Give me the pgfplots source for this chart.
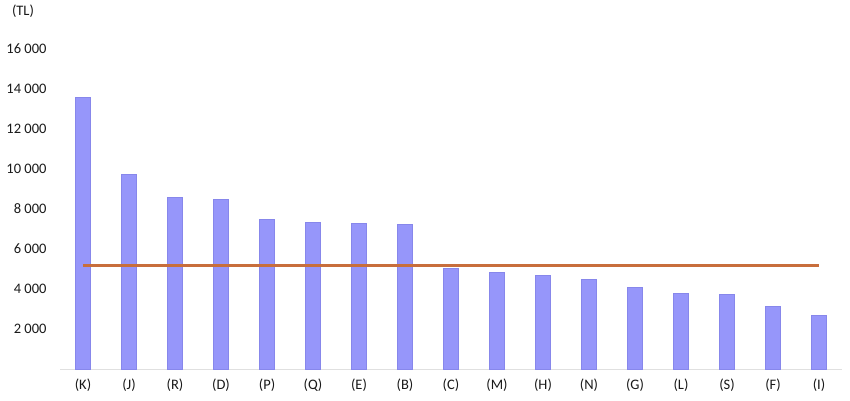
\documentclass[border=0pt]{standalone}
\usepackage{pgfplots}
\pgfplotsset{compat=1.18}
\usepackage{fontspec}
\setmainfont{Carlito}
\definecolor{barblue}{RGB}{150,150,250}
\definecolor{baredge}{RGB}{135,135,235}
\definecolor{avgline}{RGB}{200,110,60}
\definecolor{txt}{RGB}{25,25,25}
\begin{document}
\begin{tikzpicture}
\useasboundingbox (0,0) rectangle (850pt,400pt);
\begin{axis}[
    at={(60pt,31pt)}, anchor=south west,
    scale only axis,
    width=782pt, height=320pt,
    xmin=-0.5, xmax=16.5,
    ymin=0, ymax=16000,
    xtick={0,...,16},
    xticklabels={(K),(J),(R),(D),(P),(Q),(E),(B),(C),(M),(H),(N),(G),(L),(S),(F),(I)},
    ytick={2000,4000,...,16000},
    scaled y ticks=false,
    major tick length=0pt,
    axis x line=bottom, axis y line=left,
    x axis line style={draw=black!12, -},
    y axis line style={draw=none},
    tick label style={font=\fontsize{14.5}{16}\selectfont, text=txt},
    yticklabel style={xshift=-10pt},
    xticklabel style={yshift=-6pt},
    /pgf/number format/assume math mode=true,
    /pgf/number format/1000 sep={\ },
    clip=false,
]
\addplot[ybar, bar width=15pt, fill=barblue, draw=baredge] coordinates {
    (0,13600) (1,9750) (2,8600) (3,8480) (4,7500) (5,7350) (6,7300) (7,7250)
    (8,5030) (9,4850) (10,4670) (11,4470) (12,4100) (13,3800) (14,3730)
    (15,3130) (16,2700)
};
\addplot[no marks, line width=2.6pt, avgline] coordinates {(0,5180) (16,5180)};
\end{axis}
\node[font=\fontsize{14.5}{16}\selectfont, text=txt] at (23pt,389pt) {(TL)};
\end{tikzpicture}
\end{document}
